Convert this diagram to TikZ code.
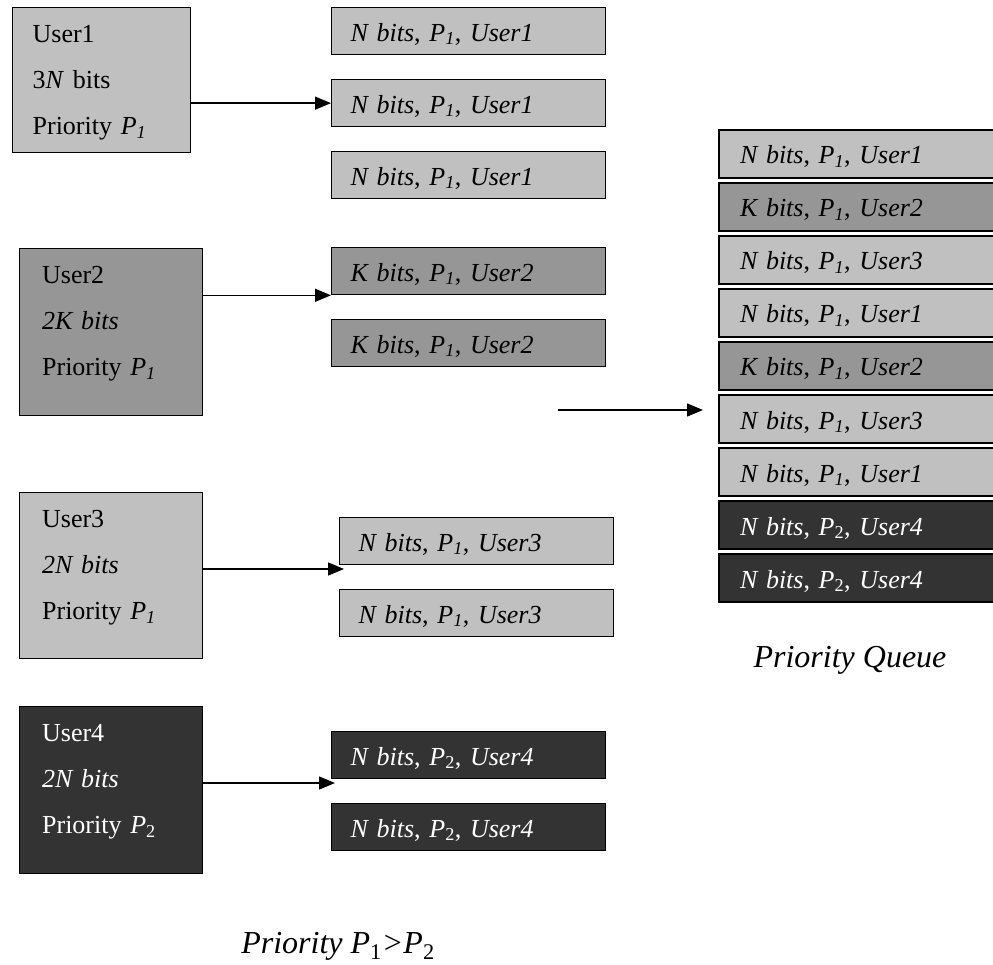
\documentclass[tikz,border=0pt]{standalone}
\usepackage{fontspec}
\setmainfont{Liberation Serif}
\usetikzlibrary{arrows.meta}
\definecolor{lightq}{HTML}{C0C0C0}
\definecolor{midq}{HTML}{969696}
\definecolor{darkq}{HTML}{333333}
\newcommand{\Pa}{\textit{P}\textsubscript{\textit{1}}}
\newcommand{\Pb}{\textit{P}\textsubscript{2}}
\tikzset{
	userbox/.style={draw,line width=1.3pt,anchor=north west,inner xsep=20pt,inner ysep=0pt,text width=138pt,align=left,text height=35pt},
	pkt/.style={draw,line width=1.3pt,anchor=north west,inner xsep=19pt,minimum width=274pt,text width=236pt,minimum height=47pt,text height=20pt,text depth=0pt,align=left},
	qrow/.style={draw,line width=2pt,anchor=north west,inner xsep=21pt,minimum width=275pt,text width=233pt,minimum height=48pt,text height=20pt,text depth=0pt,align=left},
	feed/.style={line width=1.4pt,-{Triangle[length=16pt,width=13pt]}},
	caption/.style={anchor=base,font=\fontsize{32}{38}\selectfont\itshape}
}
\begin{document}
\begin{tikzpicture}[x=1pt,y=-1pt,font=\fontsize{26}{46}\selectfont]
	\useasboundingbox (0,0) rectangle (993,965);
	\node (u1) at (12,7)[userbox,fill=lightq,minimum width=178pt,text depth=110pt]{User1\\3\textit{N} bits\\Priority \Pa};
	\node (u2) at (19,248)[userbox,fill=midq,minimum width=183pt,text depth=132pt]{User2\\\textit{2K bits}\\Priority \Pa};
	\node (u3) at (19,492)[userbox,fill=lightq,minimum width=183pt,text depth=131pt]{User3\\\textit{2N bits}\\Priority \Pa};
	\node (u4) at (19,706)[userbox,fill=darkq,text=white,minimum width=183pt,text depth=132pt]{User4\\\textit{2N bits}\\Priority \Pb};
	\node (p11) at (331,7)[pkt,fill=lightq]{\textit{N bits}, \Pa, \textit{User1}};
	\node (p12) at (331,79)[pkt,fill=lightq]{\textit{N bits}, \Pa, \textit{User1}};
	\node (p13) at (331,151)[pkt,fill=lightq]{\textit{N bits}, \Pa, \textit{User1}};
	\node (p21) at (331,247)[pkt,fill=midq]{\textit{K bits}, \Pa, \textit{User2}};
	\node (p22) at (331,319)[pkt,fill=midq]{\textit{K bits}, \Pa, \textit{User2}};
	\node (p31) at (339,517)[pkt,fill=lightq]{\textit{N bits}, \Pa, \textit{User3}};
	\node (p32) at (339,589)[pkt,fill=lightq]{\textit{N bits}, \Pa, \textit{User3}};
	\node (p41) at (331,731)[pkt,fill=darkq,text=white]{\textit{N bits}, \Pb, \textit{User4}};
	\node (p42) at (331,803)[pkt,fill=darkq,text=white]{\textit{N bits}, \Pb, \textit{User4}};
	\node (q1) at (718,129)[qrow,fill=lightq]{\textit{N bits}, \Pa, \textit{User1}};
	\node (q2) at (718,182)[qrow,fill=midq]{\textit{K bits}, \Pa, \textit{User2}};
	\node (q3) at (718,235)[qrow,fill=lightq]{\textit{N bits}, \Pa, \textit{User3}};
	\node (q4) at (718,288)[qrow,fill=lightq]{\textit{N bits}, \Pa, \textit{User1}};
	\node (q5) at (718,341)[qrow,fill=midq]{\textit{K bits}, \Pa, \textit{User2}};
	\node (q6) at (718,394)[qrow,fill=lightq]{\textit{N bits}, \Pa, \textit{User3}};
	\node (q7) at (718,447)[qrow,fill=lightq]{\textit{N bits}, \Pa, \textit{User1}};
	\node (q8) at (718,500)[qrow,fill=darkq,text=white]{\textit{N bits}, \Pb, \textit{User4}};
	\node (q9) at (718,553)[qrow,fill=darkq,text=white]{\textit{N bits}, \Pb, \textit{User4}};
	\node (qcap) at (850,667)[caption]{Priority Queue};
	\node (pcap) at (338,953)[caption]{Priority P\textsubscript{\upshape 1}>P\textsubscript{\upshape 2}};
	\coordinate (t3) at (344,569);
	\coordinate (t4) at (335,783);
	\coordinate (qa) at (558,410);
	\coordinate (qb) at (703,410);
	\draw[feed] (u1.east |- p12) -- (p12.west);
	\draw[feed] (u2.east |- p21.south west) -- (p21.south west);
	\draw[feed] (u3.east |- t3) -- (t3);
	\draw[feed] (u4.east |- t4) -- (t4);
	\draw[feed] (qa) -- (qb);
\end{tikzpicture}
\end{document}
